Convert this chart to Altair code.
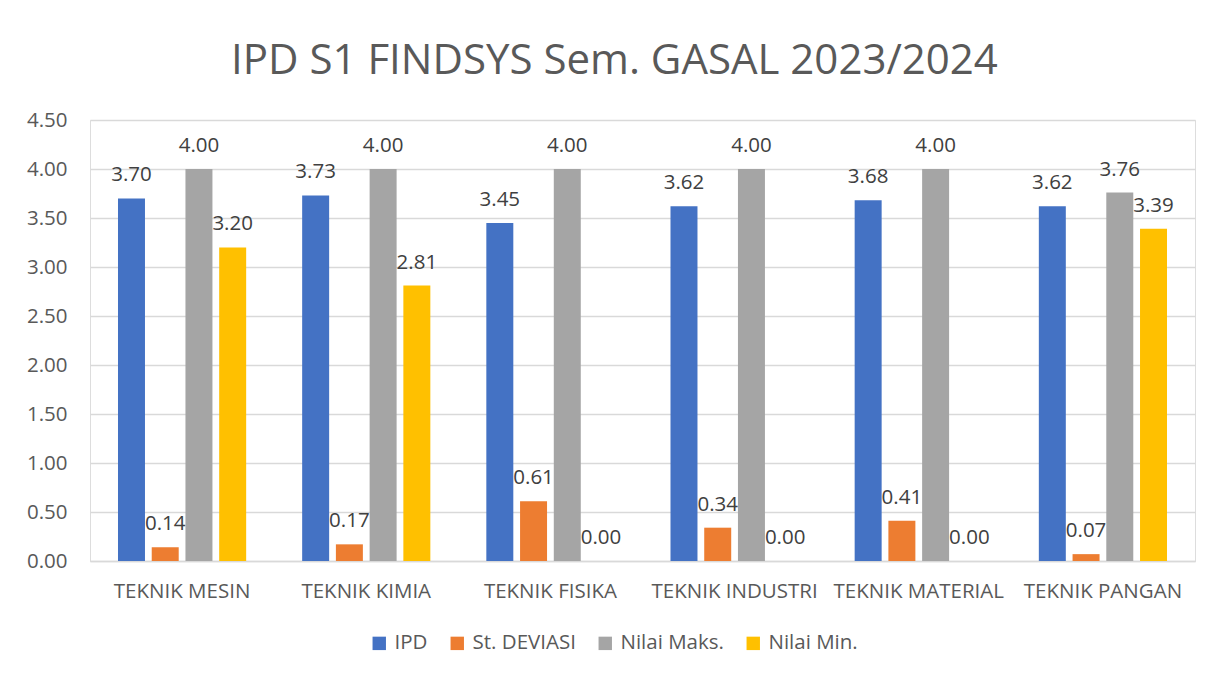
import altair as alt
import pandas as pd

categories = ["TEKNIK MESIN", "TEKNIK KIMIA", "TEKNIK FISIKA", "TEKNIK INDUSTRI", "TEKNIK MATERIAL", "TEKNIK PANGAN"]
series = ["IPD", "St. DEVIASI", "Nilai Maks.", "Nilai Min."]
ipd = [3.70, 3.73, 3.45, 3.62, 3.68, 3.62]
st_deviasi = [0.14, 0.17, 0.61, 0.34, 0.41, 0.07]
nilai_maks = [4.00, 4.00, 4.00, 4.00, 4.00, 3.76]
nilai_min = [3.20, 2.81, 0.00, 0.00, 0.00, 3.39]
colors = ["#4472C4", "#ED7D31", "#A5A5A5", "#FFC000"]
y_ticks = [0, 0.5, 1, 1.5, 2, 2.5, 3, 3.5, 4, 4.5]

rows = []
for s, vals in zip(series, [ipd, st_deviasi, nilai_maks, nilai_min]):
    for c, v in zip(categories, vals):
        rows.append({"Program": c, "Seri": s, "Nilai": v})
df = pd.DataFrame(rows)

FONT = "Open Sans"
TXT = "#595959"
FS = 20.5

base = alt.Chart(df).encode(
    x=alt.X("Program:N", sort=categories, title=None,
            scale=alt.Scale(paddingInner=0, paddingOuter=0),
            axis=alt.Axis(labelAngle=0, ticks=False, domain=True, domainColor="#d9d9d9",
                          domainWidth=1.5, labelPadding=20, labelFontSize=FS,
                          labelColor=TXT, labelFont=FONT, grid=False)),
    xOffset=alt.XOffset("Seri:N", sort=series,
                        scale=alt.Scale(paddingInner=0.2, paddingOuter=0.83)),
    y=alt.Y("Nilai:Q", title=None,
            scale=alt.Scale(domain=[0, 4.5], nice=False),
            axis=alt.Axis(values=y_ticks, format=".2f", ticks=False, domain=False,
                          gridColor="#d9d9d9", gridWidth=1.5, labelPadding=23,
                          labelFontSize=FS, labelColor=TXT, labelFont=FONT)),
)

bars = base.mark_bar().encode(
    color=alt.Color("Seri:N", sort=series,
                    scale=alt.Scale(domain=series, range=colors),
                    legend=alt.Legend(title=None, orient="none", direction="horizontal",
                                      legendX=279, legendY=513, symbolType="square",
                                      symbolSize=180, symbolStrokeWidth=0,
                                      labelFontSize=FS, labelColor=TXT, labelFont=FONT,
                                      labelOffset=5, columnPadding=19)),
)

labels = base.mark_text(baseline="alphabetic", dy=-17, fontSize=FS, font=FONT, color="#404040").encode(
    text=alt.Text("Nilai:Q", format=".2f"),
)

chart = (bars + labels).properties(
    width=1105,
    height=441,
    title=alt.Title("IPD S1 FINDSYS Sem. GASAL 2023/2024", fontSize=42, font=FONT,
                    fontWeight="normal", color=TXT, anchor="middle", dx=-28, offset=27),
    autosize=alt.AutoSizeParams(type="none"),
    padding={"left": 82, "top": 112, "right": 20, "bottom": 100},
).configure_view(stroke=None).configure(background="white")

chart.save("out.html", embed_options={"renderer": "svg", "actions": False})
